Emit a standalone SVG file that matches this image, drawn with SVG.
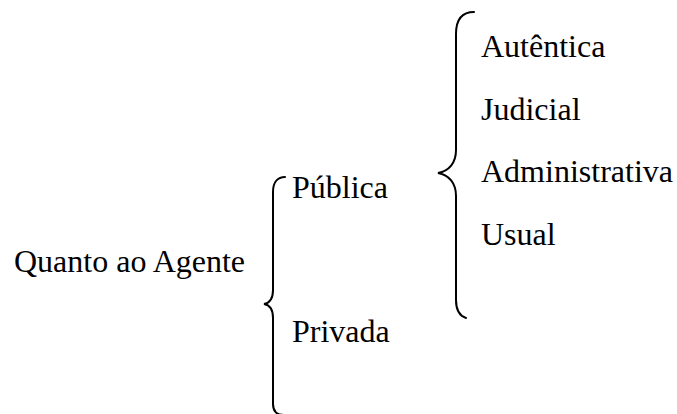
<svg xmlns="http://www.w3.org/2000/svg" width="677" height="414" viewBox="0 0 677 414">
<style>
text { font-family: "Liberation Serif", "Times New Roman", serif; font-size: 32px; fill: #000; }
.brace { fill: none; stroke: #000; stroke-width: 2; stroke-linecap: round; }
</style>
<rect width="677" height="414" fill="#fff"/>
<g id="connectors">
<path class="brace" d="M 285 177 C 278 177, 273 182, 273 192 L 273 290 C 273 298, 270 303, 264 304 C 270 305, 273 310, 273 318 L 273 404 C 273 411, 277 415, 284 415"/>
<path class="brace" d="M 474 12 C 462 12, 456 20, 456 34 L 456 150 C 456 163, 449 171, 438 173 C 449 175, 456 183, 456 196 L 456 300 C 456 311, 460 316, 466 318"/>
</g>
<g id="root"><text x="14" y="272">Quanto ao Agente</text></g>
<g id="publica"><text x="292" y="198">Pública</text></g>
<g id="privada"><text x="292" y="342">Privada</text></g>
<g id="autentica"><text x="481" y="57">Autêntica</text></g>
<g id="judicial"><text x="481" y="120">Judicial</text></g>
<g id="administrativa"><text x="481" y="182">Administrativa</text></g>
<g id="usual"><text x="481" y="245">Usual</text></g>
</svg>
